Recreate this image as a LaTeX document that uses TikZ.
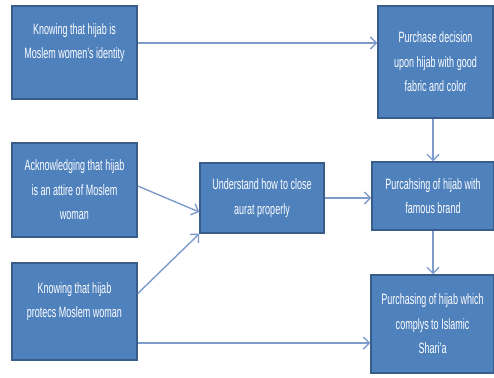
\documentclass[tikz,border=0pt]{standalone}
\usepackage{fontspec}
\setmainfont{Liberation Sans}[FakeStretch=0.6]
\usetikzlibrary{arrows.meta}
\definecolor{boxblue}{HTML}{4F81BD}
\definecolor{boxedge}{HTML}{385D8A}
\definecolor{lineblue}{HTML}{7E9CCB}
\tikzset{
    box/.style={draw=boxedge,line width=1.5pt,fill=boxblue,text=white,
        align=center,inner sep=2pt,font=\fontsize{15}{24.5}\selectfont},
    raised/.style={text depth=23pt},
    conn/.style={draw=lineblue,line width=1.4pt,-{Straight Barb[length=6pt,width=12pt]}},
}
\begin{document}
\begin{tikzpicture}[x=1pt,y=-1pt]
    \useasboundingbox (0,0) rectangle (494,377);
    %% left column
    \node[box,raised,minimum width=125pt,minimum height=93pt] (ident) at (74.5,52.5)
        {Knowing that hijab is\\Moslem women's identity};
    \node[box,minimum width=125pt,minimum height=94pt] (attire) at (74.5,190)
        {Acknowledging that hijab\\is an attire of Moslem\\woman};
    \node[box,raised,minimum width=125pt,minimum height=97pt] (protect) at (74.5,311.5)
        {Knowing that hijab\\protecs Moslem woman};
    %% middle
    \node[box,minimum width=124pt,minimum height=70pt] (aurat) at (262,198)
        {Understand how to close\\aurat properly};
    %% right column
    \node[box,minimum width=115pt,minimum height=112pt] (decision) at (435.5,62)
        {Purchase decision\\upon hijab with good\\fabric and color};
    \node[box,minimum width=122pt,minimum height=68pt] (brand) at (433,196)
        {Purcahsing of hijab with\\famous brand};
    \node[box,minimum width=123pt,minimum height=98pt] (sharia) at (432.5,324)
        {Purchasing of hijab which\\complys to Islamic\\Shari'a};
    %% connectors
    \draw[conn] ([yshift=9.5pt]ident.east) -- ([yshift=9.5pt]ident.east -| decision.west);
    \draw[conn] (brand.north |- decision.south) -- (brand.north);
    \draw[conn] ([yshift=4pt]attire.east) -- ([yshift=-14pt]aurat.west);
    \draw[conn] ([yshift=18pt]protect.east) -- (aurat.south west);
    \draw[conn] (aurat.east) -- (aurat.east -| brand.west);
    \draw[conn] (brand.south) -- (brand.south |- sharia.north);
    \draw[conn] ([yshift=-31.5pt]protect.east) -- ([yshift=-31.5pt]protect.east -| sharia.west);
\end{tikzpicture}
\end{document}
